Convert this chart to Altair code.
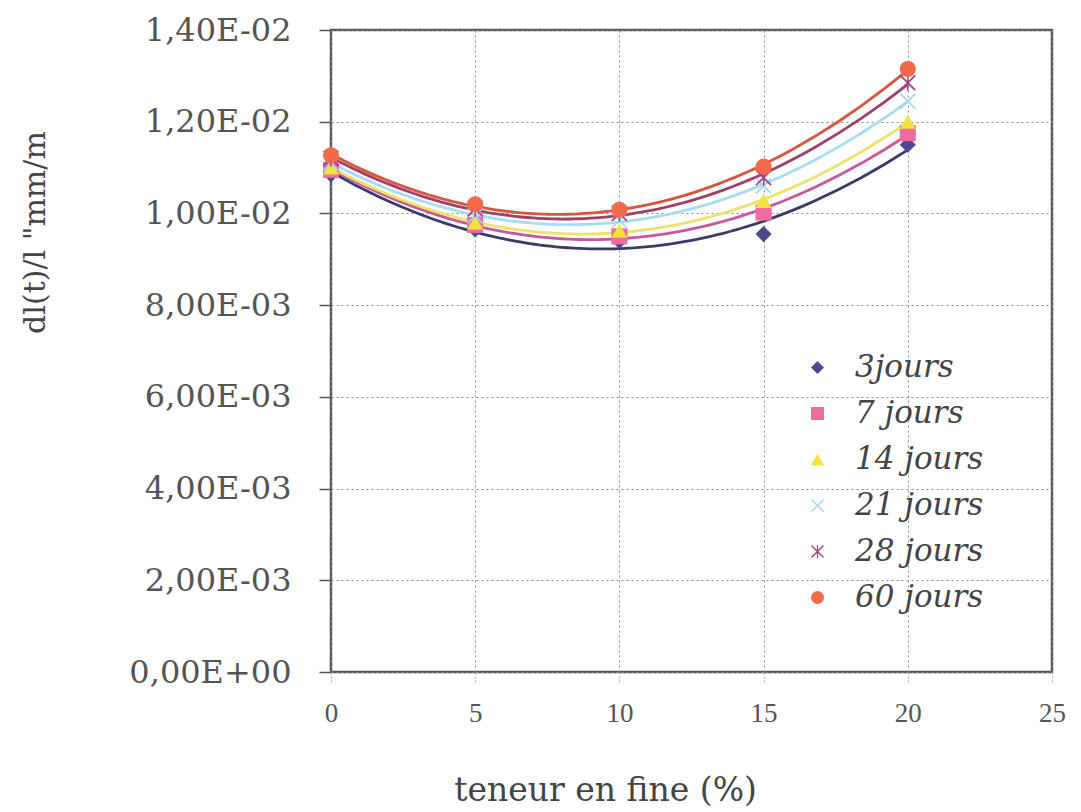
import altair as alt
import pandas as pd

# x values (teneur en fine, %)
teneur = [0, 5, 10, 15, 20]

series_names = ["3jours", "7 jours", "14 jours", "21 jours", "28 jours", "60 jours"]

# dl(t)/l values
v_3j = [0.01085, 0.00965, 0.00940, 0.00955, 0.01150]
v_7j = [0.01095, 0.00975, 0.00950, 0.01002, 0.01175]
v_14j = [0.01100, 0.00980, 0.00962, 0.01027, 0.01200]
v_21j = [0.01110, 0.00995, 0.00985, 0.01060, 0.01245]
v_28j = [0.01120, 0.01010, 0.01000, 0.01078, 0.01285]
v_60j = [0.01127, 0.01020, 0.01008, 0.01102, 0.01315]

all_values = [v_3j, v_7j, v_14j, v_21j, v_28j, v_60j]

y_tick_values = [0, 0.002, 0.004, 0.006, 0.008, 0.010, 0.012, 0.014]
y_tick_labels = ["0,00E+00", "2,00E-03", "4,00E-03", "6,00E-03", "8,00E-03",
                 "1,00E-02", "1,20E-02", "1,40E-02"]
x_tick_values = [0, 5, 10, 15, 20, 25]

marker_colors = ["#4a4a8c", "#f06ba0", "#f2e23e", "#9fd8f0", "#a04080", "#f26a4a"]
line_colors = ["#3b3b6b", "#c9589a", "#ece46a", "#a8dcf2", "#a0406a", "#d8553e"]

x_path = "M-1,-0.85L-0.85,-1L1,0.85L0.85,1ZM0.85,-1L1,-0.85L-0.85,1L-1,0.85Z"
star_path = x_path + "M-0.09,-1L0.09,-1L0.09,1L-0.09,1Z"
shapes = ["diamond", "square", "triangle-up", x_path, star_path, "circle"]

rows = []
for name, vals in zip(series_names, all_values):
    for xv, yv in zip(teneur, vals):
        rows.append({"teneur": xv, "val": yv, "serie": name})
df = pd.DataFrame(rows)

label_expr = " : ".join(
    [f"abs(datum.value - {v}) < 1e-9 ? '{l}'" for v, l in zip(y_tick_values, y_tick_labels)]
) + " : ''"

x_enc = alt.X(
    "teneur:Q",
    scale=alt.Scale(domain=[0, 25], nice=False, zero=False),
    axis=alt.Axis(
        values=x_tick_values, title="teneur en fine (%)", domain=False,
        grid=True, gridColor="#8a8a8a", gridDash=[2, 3], gridWidth=1,
        ticks=True, tickColor="#aaaaaa", tickDash=[2, 2], tickSize=10,
        labelFlush=False,
        titleFont="DejaVu Serif", titleFontSize=33, titleFontWeight="normal",
        titleColor="#444444", titleX=274, titleY=118, titleBaseline="middle",
        titleAnchor="start", titleAlign="center",
    ),
)
y_enc = alt.Y(
    "val:Q",
    scale=alt.Scale(domain=[0, 0.014], nice=False, zero=False),
    axis=alt.Axis(
        values=y_tick_values, labelExpr=label_expr, title='dl(t)/l "mm/m',
        domain=False, grid=True, gridColor="#8a8a8a", gridDash=[2, 3], gridWidth=1,
        ticks=True, tickColor="#555555", tickSize=12, tickWidth=1.5,
        labelFlush=False,
        labelFont="DejaVu Serif", labelFontSize=32, labelColor="#555555",
        labelPadding=28,
        titleFont="DejaVu Serif", titleFontSize=30, titleFontWeight="normal",
        titleColor="#444444", titleX=-296, titleY=202, titleAngle=270,
        titleBaseline="middle", titleAlign="center", titleAnchor="start",
    ),
)

base = alt.Chart(df)

lines = base.transform_regression(
    "teneur", "val", groupby=["serie"], method="poly", order=2
).mark_line(strokeWidth=2.8).encode(
    x=x_enc,
    y=y_enc,
    color=alt.Color("serie:N", scale=alt.Scale(domain=series_names, range=line_colors),
                    legend=None),
)

legend_cfg = alt.Legend(
    title=None, orient="none", legendX=471, legendY=322, padding=0,
    labelFont="DejaVu Serif", labelFontStyle="italic", labelFontSize=31,
    labelColor="#444444", labelOffset=22, rowPadding=14,
    symbolSize=170, symbolOpacity=1, symbolStrokeWidth=0,
)

points = base.mark_point(filled=True, opacity=1, size=260, strokeWidth=0).encode(
    x=x_enc,
    y=y_enc,
    color=alt.Color(
        "serie:N",
        scale=alt.Scale(domain=series_names, range=marker_colors),
        sort=series_names,
        legend=legend_cfg,
    ),
    shape=alt.Shape("serie:N", scale=alt.Scale(domain=series_names, range=shapes),
                    sort=series_names, legend=legend_cfg),
)

chart = alt.layer(lines, points).resolve_scale(
    color="independent", shape="independent"
).resolve_legend(
    color="independent", shape="independent"
).properties(
    width=721,
    height=642,
    autosize="none",
    padding={"left": 331, "top": 30, "right": 29, "bottom": 140},
    background="white",
).configure_view(
    stroke="#555555", strokeWidth=2.5
).configure_axisX(
    labelFont="Liberation Serif", labelFontSize=27, labelColor="#555555", labelPadding=18
)

chart.save("out.html", embed_options={"renderer": "svg", "actions": False})
